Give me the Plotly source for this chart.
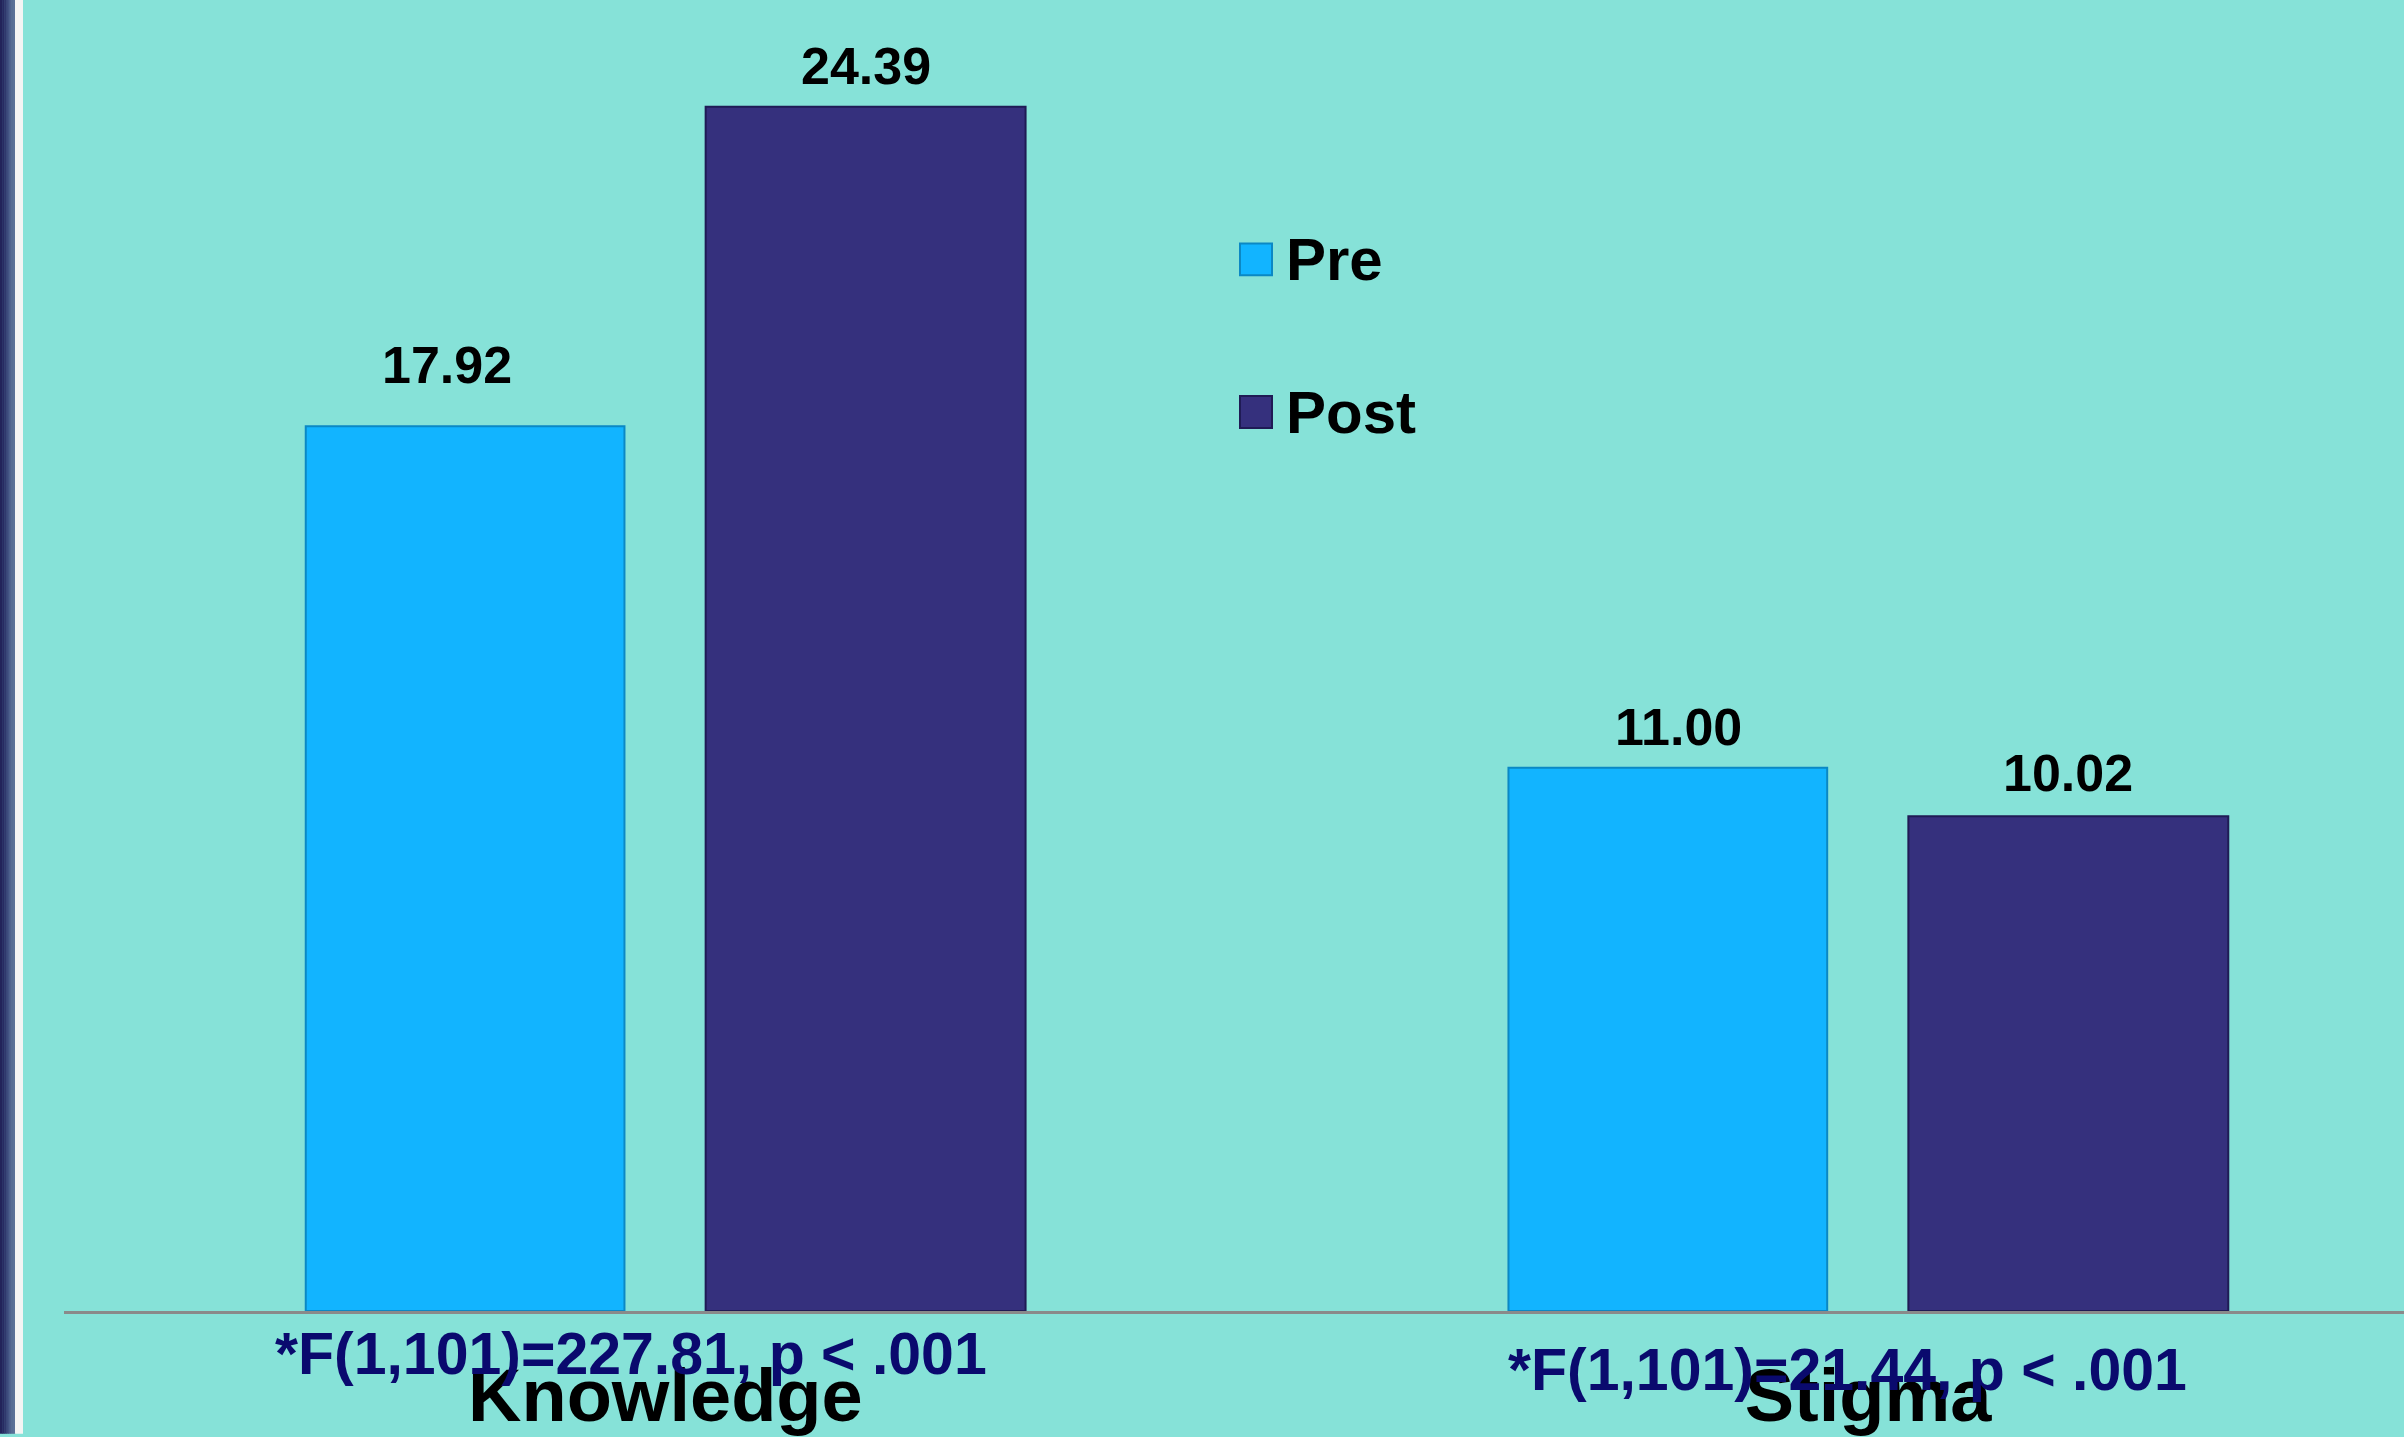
import plotly.graph_objects as go

# ---- data ----
categories = ["Knowledge", "Stigma"]
series_names = ["Pre", "Post"]
pre_values = [17.92, 11.00]
post_values = [24.39, 10.02]
stats_labels = ["*F(1,101)=227.81, p < .001", "*F(1,101)=21.44, p < .001"]

# ---- layout geometry ----
W, H = 2404, 1437
ML, MR, MT, MB = 64, 0, 0, 123
PW = W - ML - MR
PH = H - MT - MB
XR = [-0.5, 1.4456]
PX_PER_UNIT = PW / (XR[1] - XR[0])


def px_x(px):
    return (px - ML) / PW


def px_y(py):
    return 1 - (py - MT) / PH


BG = "#86E2D8"
PRE = "#12B4FF"
POST = "#35307D"
FONT = "Liberation Sans, Arial, sans-serif"

# (name, values, offset, width, fill, outline, label x nudges, label y nudges)
bar_specs = [
    (series_names[0], pre_values, -0.299, 0.265, PRE, "#0B88C4", [-18, 11], [20, 0]),
    (series_names[1], post_values, 0.0335, 0.266, POST, "#1F1B55", [0, 0], [0, 2]),
]

fig = go.Figure()
annotations = []
for name, vals, off, wid, fc, lc, dxs, dys in bar_specs:
    fig.add_trace(go.Bar(
        name=name, x=categories, y=vals,
        offset=off, width=wid,
        marker=dict(color=fc, line=dict(color=lc, width=2)),
        showlegend=False, hoverinfo="x+y",
    ))
    xs = (off + wid / 2) * PX_PER_UNIT
    for cat, v, dx, dy in zip(categories, vals, dxs, dys):
        annotations.append(dict(xref="x", yref="y", x=cat, y=v, xshift=xs + dx, yshift=10 + dy,
                                xanchor="center", yanchor="bottom", showarrow=False,
                                text=f"{v:.2f}",
                                font=dict(family=FONT, size=52, color="black", weight="bold")))

shapes = []
# left decorative stripes
stripe_cols = ["#22235A", "#272A62", "#2F376D", "#3D4B7D", "#4C5F8C", "#566C94", "#5A7097"]
for i, c in enumerate(stripe_cols):
    x0 = i * 15 / len(stripe_cols)
    x1 = (i + 1) * 15 / len(stripe_cols) + 0.5
    shapes.append(dict(type="rect", xref="paper", yref="paper",
                       x0=px_x(x0), x1=px_x(x1), y0=px_y(H), y1=px_y(0),
                       fillcolor=c, line=dict(width=0), layer="above"))
shapes.append(dict(type="rect", xref="paper", yref="paper",
                   x0=px_x(15), x1=px_x(23), y0=px_y(H), y1=px_y(0),
                   fillcolor="#F4F4F4", line=dict(width=0), layer="above"))

# legend squares + labels
legend_cols = [(PRE, "#0B88C4"), (POST, "#1F1B55")]
legend_tops = [244, 397]
for (fc, lc), top in zip(legend_cols, legend_tops):
    shapes.append(dict(type="rect", xref="paper", yref="paper",
                       x0=px_x(1240), x1=px_x(1272), y0=px_y(top + 32), y1=px_y(top),
                       fillcolor=fc, line=dict(color=lc, width=2)))
for name, top in zip(series_names, legend_tops):
    annotations.append(dict(xref="paper", yref="paper", x=px_x(1284), y=px_y(top + 16),
                            xanchor="left", yanchor="middle", showarrow=False,
                            text=name, font=dict(family=FONT, size=60, color="black", weight="bold")))

# statistics lines under each group
stat_shift = [-34, -21]
stat_y = [1357, 1373]
for cat, lab, xs, yy in zip(categories, stats_labels, stat_shift, stat_y):
    annotations.append(dict(xref="x", yref="paper", x=cat, xshift=xs, y=px_y(yy),
                            xanchor="center", yanchor="middle", showarrow=False,
                            text=lab, font=dict(family=FONT, size=59, color="#0A0A6E", weight="bold")))

fig.update_layout(
    width=W, height=H,
    margin=dict(l=ML, r=MR, t=MT, b=MB, pad=0),
    paper_bgcolor=BG, plot_bgcolor=BG,
    barmode="overlay",
    shapes=shapes, annotations=annotations,
    showlegend=False,
    xaxis=dict(range=XR, showline=True, linecolor="#8A8A8A", linewidth=3,
               ticks="", showgrid=False, zeroline=False,
               tickfont=dict(family=FONT, size=74, color="black", weight="bold"),
               ticklabelstandoff=18),
    yaxis=dict(range=[0, 26.55], visible=False, showgrid=False, zeroline=False),
)

fig.write_html("out.html", config={"displayModeBar": False},
               post_script="document.body.style.margin='0';document.body.style.overflow='hidden';")
